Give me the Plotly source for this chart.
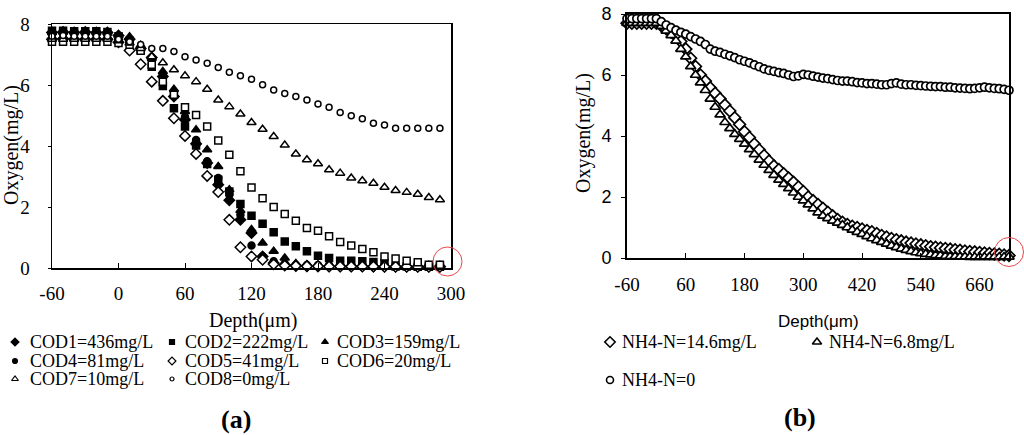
import plotly.graph_objects as go

W, H = 1024, 435

# ---------------- data (a) ----------------
depth_a = list(range(-60, 300, 10))
cod_labels = ["COD1=436mg/L", "COD2=222mg/L", "COD3=159mg/L", "COD4=81mg/L",
              "COD5=41mg/L", "COD6=20mg/L", "COD7=10mg/L", "COD8=0mg/L"]
cod1 = [7.72, 7.74, 7.72, 7.74, 7.72, 7.72, 7.62, 7.5, 7.2, 6.9, 6.28, 5.62, 4.86, 4.07, 3.44, 2.73, 2.22,
        1.58, 1.15, 0.38, 0.16, 0.11, 0.08, 0.07, 0.06, 0.06, 0.06, 0.06, 0.06, 0.05, 0.05, 0.05, 0.05, 0.05, 0.05, 0.05]
cod2 = [7.78, 7.78, 7.76, 7.76, 7.76, 7.74, 7.6, 7.45, 7.15, 6.6, 5.97, 5.24, 4.64, 4.02, 3.41, 2.89, 2.51,
        2.1, 1.71, 1.45, 1.17, 0.87, 0.71, 0.55, 0.4, 0.33, 0.24, 0.24, 0.22, 0.2, 0.16, 0.05, 0.05, 0.04, 0.04, 0.04]
cod3 = [7.72, 7.74, 7.74, 7.74, 7.72, 7.72, 7.62, 7.58, 7.3, 6.88, 6.44, 5.86, 5.13, 4.53, 3.88, 3.33, 2.57,
        1.89, 1.26, 0.82, 0.55, 0.33, 0.15, 0.1, 0.08, 0.08, 0.07, 0.07, 0.07, 0.06, 0.06, 0.06, 0.05, 0.05, 0.05, 0.05]
cod4 = [7.66, 7.68, 7.68, 7.68, 7.66, 7.66, 7.55, 7.5, 7.22, 6.85, 6.35, 5.75, 4.95, 4.2, 3.5, 2.95, 2.4,
        1.75, 0.74, 0.38, 0.22, 0.14, 0.1, 0.1, 0.1, 0.1, 0.1, 0.1, 0.1, 0.1, 0.1, 0.09, 0.09, 0.09, 0.09, 0.09]
cod5 = [7.5, 7.52, 7.5, 7.5, 7.5, 7.5, 7.4, 7.13, 6.68, 6.11, 5.48, 4.91, 4.33, 3.74, 3.02, 2.49, 1.58,
        0.68, 0.38, 0.27, 0.12, 0.08, 0.07, 0.06, 0.06, 0.05, 0.05, 0.05, 0.05, 0.05, 0.04, 0.04, 0.04, 0.04, 0.04, 0.04]
cod6 = [7.42, 7.42, 7.42, 7.42, 7.42, 7.42, 7.38, 7.32, 7.12, 6.66, 6.11, 5.68, 5.27, 5.02, 4.64, 4.18, 3.71,
        3.17, 2.64, 2.29, 2.0, 1.77, 1.55, 1.31, 1.22, 1.04, 0.85, 0.74, 0.62, 0.52, 0.38, 0.31, 0.24, 0.19, 0.11, 0.11]
cod7 = [7.5, 7.5, 7.5, 7.5, 7.5, 7.5, 7.45, 7.38, 7.2, 6.93, 6.73, 6.5, 6.3, 6.11, 5.86, 5.51, 5.29,
        5.05, 4.77, 4.55, 4.31, 4.03, 3.74, 3.55, 3.42, 3.22, 3.11, 2.95, 2.86, 2.78, 2.65, 2.54, 2.48, 2.42, 2.31, 2.24]
cod8 = [7.6, 7.62, 7.6, 7.6, 7.6, 7.6, 7.5, 7.42, 7.33, 7.2, 7.2, 7.1, 6.93, 6.82, 6.71, 6.57, 6.42,
        6.3, 6.19, 6.01, 5.84, 5.72, 5.62, 5.51, 5.38, 5.27, 5.1, 4.99, 4.89, 4.75, 4.69, 4.58, 4.58, 4.58, 4.58, 4.58]
xticks_a = [-60, 0, 60, 120, 180, 240, 300]
xticklabels_a = ["-60", "0", "60", "120", "180", "240", "300"]
yticks = [0, 2, 4, 6, 8]
yticklabels = ["0", "2", "4", "6", "8"]

# ---------------- data (b) ----------------
depth_b = list(range(-60, 730, 10))
nh4_labels = ["NH4-N=14.6mg/L", "NH4-N=6.8mg/L", "NH4-N=0"]
nh4_146 = [7.7] * 7 + [
    7.62, 7.52, 7.4, 7.28, 7.1, 6.85, 6.55, 6.28, 6.0, 5.8,
    5.58, 5.4, 5.22, 5.02, 4.82, 4.6, 4.38, 4.14, 3.95, 3.74,
    3.55, 3.36, 3.18, 3.02, 2.9, 2.76, 2.62, 2.48, 2.33, 2.18,
    2.0, 1.88, 1.75, 1.63, 1.5, 1.38, 1.26, 1.17, 1.1, 1.04,
    1.0, 0.95, 0.9, 0.86, 0.8, 0.74, 0.69, 0.64, 0.6, 0.56,
    0.52, 0.49, 0.46, 0.43, 0.4, 0.37, 0.35, 0.33, 0.31, 0.29,
    0.27, 0.25, 0.23, 0.21, 0.2, 0.18, 0.16, 0.15, 0.13, 0.12,
    0.1, 0.08]
nh4_68 = [7.7] * 7 + [
    7.6, 7.45, 7.3, 7.12, 6.85, 6.6, 6.28, 6.0, 5.75, 5.5,
    5.22, 4.95, 4.7, 4.45, 4.25, 4.06, 3.9, 3.74, 3.56, 3.4,
    3.22, 3.05, 2.88, 2.72, 2.56, 2.42, 2.28, 2.14, 2.0, 1.88,
    1.75, 1.62, 1.49, 1.38, 1.3, 1.22, 1.15, 1.08, 1.0, 0.92,
    0.85, 0.78, 0.71, 0.64, 0.58, 0.52, 0.46, 0.4, 0.35, 0.3,
    0.26, 0.22, 0.18, 0.15, 0.13, 0.11, 0.09, 0.08, 0.06, 0.05,
    0.05, 0.04, 0.04, 0.03, 0.03, 0.03, 0.03, 0.03, 0.03, 0.03,
    0.03, 0.04]
nh4_0 = [7.85] * 7 + [
    7.75, 7.64, 7.55, 7.47, 7.4, 7.34, 7.26, 7.18, 7.1, 7.0,
    6.85, 6.78, 6.74, 6.68, 6.63, 6.57, 6.5, 6.45, 6.4, 6.33,
    6.27, 6.2, 6.15, 6.12, 6.08, 6.05, 6.0, 5.95, 5.97, 6.02,
    6.0, 5.96, 5.93, 5.9, 5.88, 5.85, 5.82, 5.8, 5.8, 5.78,
    5.75, 5.74, 5.72, 5.72, 5.7, 5.68, 5.68, 5.72, 5.74, 5.7,
    5.68, 5.68, 5.66, 5.65, 5.64, 5.63, 5.62, 5.62, 5.6, 5.6,
    5.58, 5.57, 5.56, 5.55, 5.56, 5.58, 5.6, 5.58, 5.56, 5.55,
    5.53, 5.5]
xticks_b = [-60, 60, 180, 300, 420, 540, 660]
xticklabels_b = ["-60", "60", "180", "300", "420", "540", "660"]

# ---------------- styling ----------------
SERIF = "Liberation Serif"
SANS = "Liberation Sans"

def fx(p):
    return p / W

def fy(p):
    return 1 - p / H

# plot areas in pixels
A = dict(l=52, r=451, t=24, b=268)
B = dict(l=627, r=1009, t=14, b=258)

cod_series = [cod1, cod2, cod3, cod4, cod5, cod6, cod7, cod8]
cod_style = [
    ("diamond", "black", 8), ("square", "black", 7), ("triangle-up", "black", 8), ("circle", "black", 7),
    ("diamond", "white", 8), ("square", "white", 7), ("triangle-up", "white", 8), ("circle", "white", 6),
]

fig = go.Figure()

for vals, (sym, fill, size), name in zip(cod_series, cod_style, cod_labels):
    fig.add_trace(go.Scatter(
        x=depth_a, y=vals, mode="markers", name=name, showlegend=False,
        cliponaxis=False, xaxis="x", yaxis="y",
        marker=dict(symbol=sym, size=size, color=fill, line=dict(color="black", width=1.5)),
    ))

nh4_series = [nh4_146, nh4_68, nh4_0]
nh4_style = [("diamond", 9), ("triangle-up", 9), ("circle", 8)]
for vals, (sym, size), name in zip(nh4_series, nh4_style, nh4_labels):
    fig.add_trace(go.Scatter(
        x=depth_b, y=vals, mode="markers", name=name, showlegend=False,
        cliponaxis=False, xaxis="x2", yaxis="y2",
        marker=dict(symbol=sym, size=size, color="white", line=dict(color="black", width=1.7)),
    ))

# ---------- manual legends (overlay pixel axis) ----------
leg_a_pos = [(15, 342), (172, 342), (325, 342), (15, 361), (172, 361), (325, 361), (15, 379), (172, 379)]
leg_a_txt = [(28, 342), (183, 342), (335, 342), (28, 361), (183, 361), (335, 361), (28, 379), (183, 379)]
leg_a_size = [6, 5, 6, 5, 6, 5, 6, 4]
for (px, py), (sym, fill, _), sz in zip(leg_a_pos, cod_style, leg_a_size):
    fig.add_trace(go.Scatter(
        x=[px], y=[py], mode="markers", showlegend=False, xaxis="x3", yaxis="y3", hoverinfo="skip",
        marker=dict(symbol=sym, size=sz, color=fill, line=dict(color="black", width=1.2)),
    ))
leg_b_pos = [(610, 342), (817, 342), (610, 380)]
leg_b_txt = [(620, 342), (827, 342), (620, 380)]
for (px, py), (sym, size) in zip(leg_b_pos, nh4_style):
    fig.add_trace(go.Scatter(
        x=[px], y=[py], mode="markers", showlegend=False, xaxis="x3", yaxis="y3", hoverinfo="skip",
        marker=dict(symbol=sym, size=size - 1, color="white", line=dict(color="black", width=1.6)),
    ))

annotations = []
for (tx, ty), name in zip(leg_a_txt, cod_labels):
    annotations.append(dict(x=fx(tx), y=fy(ty), xref="paper", yref="paper", text=name, showarrow=False,
                            xanchor="left", yanchor="middle", font=dict(family=SERIF, size=18, color="black")))
for (tx, ty), name in zip(leg_b_txt, nh4_labels):
    annotations.append(dict(x=fx(tx), y=fy(ty), xref="paper", yref="paper", text=name, showarrow=False,
                            xanchor="left", yanchor="middle", font=dict(family=SERIF, size=18, color="black")))

# axis titles
annotations += [
    dict(x=fx(12), y=fy(145), xref="paper", yref="paper", text="Oxygen(mg/L)", textangle=-90, showarrow=False,
         xanchor="center", yanchor="middle", font=dict(family=SERIF, size=20, color="black")),
    dict(x=fx(253), y=fy(320), xref="paper", yref="paper", text="Depth(μm)", showarrow=False,
         xanchor="center", yanchor="middle", font=dict(family=SERIF, size=20, color="black")),
    dict(x=fx(583), y=fy(133), xref="paper", yref="paper", text="Oxygen(mg/L)", textangle=-90, showarrow=False,
         xanchor="center", yanchor="middle", font=dict(family=SERIF, size=20, color="black")),
    dict(x=fx(818), y=fy(321), xref="paper", yref="paper", text="Depth(μm)", showarrow=False,
         xanchor="center", yanchor="middle", font=dict(family=SANS, size=17, color="black")),
    dict(x=fx(236), y=fy(419), xref="paper", yref="paper", text="<b>(a)</b>", showarrow=False,
         xanchor="center", yanchor="middle", font=dict(family=SERIF, size=26, color="black")),
    dict(x=fx(800), y=fy(417), xref="paper", yref="paper", text="<b>(b)</b>", showarrow=False,
         xanchor="center", yanchor="middle", font=dict(family=SERIF, size=26, color="black")),
]

# red circles
shapes = []
for cx, cy, r in [(447.5, 261.5, 14.5), (1009, 252, 14.5)]:
    shapes.append(dict(type="circle", xref="paper", yref="paper",
                       x0=fx(cx - r), x1=fx(cx + r), y0=fy(cy + r), y1=fy(cy - r),
                       line=dict(color="#e8474b", width=1)))

common_axis = dict(showgrid=False, zeroline=False, showline=True, linecolor="black", mirror=True,
                   tickcolor="black", automargin=False)

fig.update_layout(
    width=W, height=H, margin=dict(l=0, r=0, t=0, b=0, pad=0, autoexpand=False),
    paper_bgcolor="white", plot_bgcolor="rgba(0,0,0,0)", showlegend=False,
    xaxis=dict(domain=[fx(A["l"]), fx(A["r"])], range=[-60, 300], tickvals=xticks_a, ticktext=xticklabels_a,
               ticks="inside", ticklen=5, linewidth=1.5, ticklabelstandoff=8,
               tickfont=dict(family=SERIF, size=19, color="black"), anchor="y", **common_axis),
    yaxis=dict(domain=[fy(A["b"]), fy(A["t"])], range=[0, 8], tickvals=yticks, ticktext=yticklabels,
               ticks="outside", ticklen=3, linewidth=1.5, ticklabelstandoff=14,
               tickfont=dict(family=SERIF, size=19, color="black"), anchor="x", **common_axis),
    xaxis2=dict(domain=[fx(B["l"]), fx(B["r"])], range=[-60, 720], tickvals=xticks_b, ticktext=xticklabels_b,
                ticks="inside", ticklen=5, linewidth=2, ticklabelstandoff=8,
                tickfont=dict(family=SERIF, size=19, color="black"), anchor="y2", **common_axis),
    yaxis2=dict(domain=[fy(B["b"]), fy(B["t"])], range=[0, 8], tickvals=yticks, ticktext=yticklabels,
                ticks="outside", ticklen=4, linewidth=2, ticklabelstandoff=6,
                tickfont=dict(family=SANS, size=18, color="black"), anchor="x2", **common_axis),
    xaxis3=dict(domain=[0, 1], range=[0, W], visible=False, fixedrange=True, anchor="y3", automargin=False),
    yaxis3=dict(domain=[0, 1], range=[H, 0], visible=False, fixedrange=True, anchor="x3", automargin=False),
    annotations=annotations, shapes=shapes,
)

fig.write_html("out.html", config={"displayModeBar": False, "staticPlot": True},
               post_script="document.body.style.margin='0';document.body.style.overflow='hidden';")
